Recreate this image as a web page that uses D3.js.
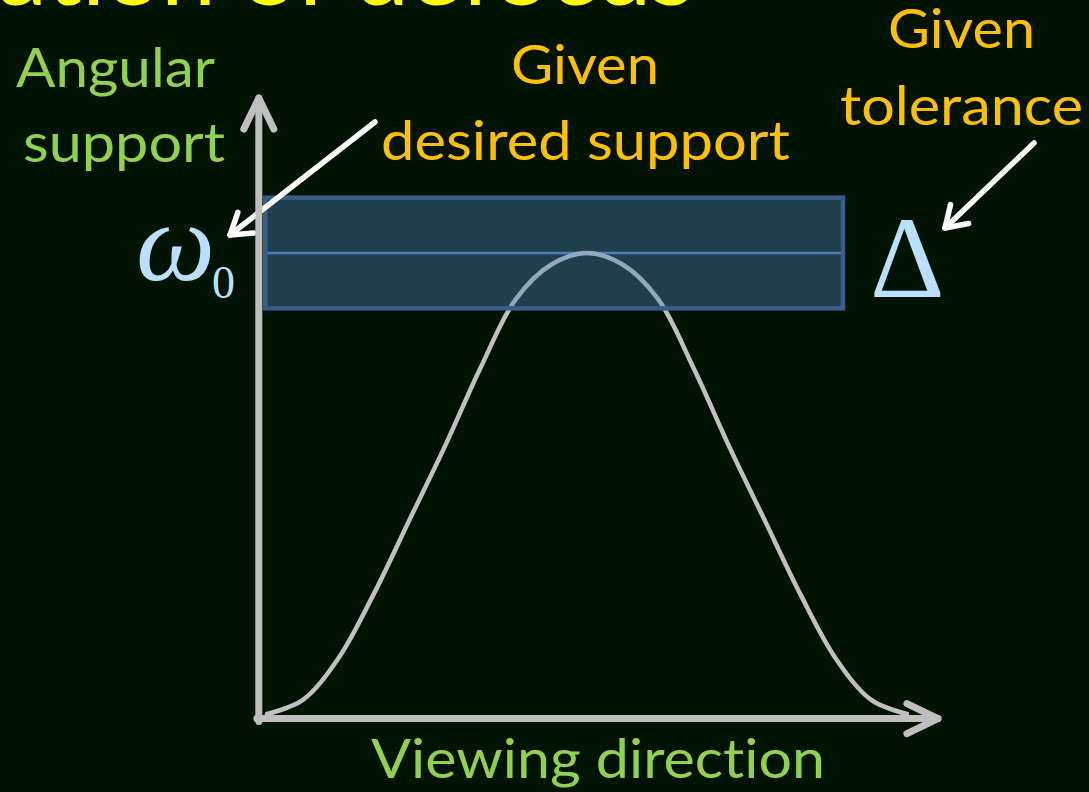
<!DOCTYPE html>
<html>
<head>
<meta charset="utf-8">
<script src="https://cdn.jsdelivr.net/npm/d3@7/dist/d3.min.js"></script>
<style>
body { margin: 0; background: #001300; }
svg { display: block; }
text { font-variant-ligatures: none; font-feature-settings: "liga" 0; }
</style>
</head>
<body>
<svg id="svg"></svg>
<script>
var width = 1089, height = 792;

// data: viewing direction (deg) and angular support
var viewAngles = [-90, -80, -70, -60, -50, -40, -30, -20, -10, 0, 10, 20, 30, 40, 50, 60, 70, 80, 90];
var support = [0.00, 0.03, 0.12, 0.26, 0.42, 0.58, 0.75, 0.90, 0.975, 1.00, 0.975, 0.90, 0.75, 0.58, 0.42, 0.26, 0.12, 0.03, 0.00];
var omega0 = 1.0;        // desired support
var delta = 0.12;        // tolerance
var bandAngles = [-90.5, 72];
var axisOrigin = [-92.3, -0.01];
var axisEnds = [98.7, 1.336];

// texts
var titleText = "ation of defocus";
var yLabelLines = ["Angular", "support"];
var bandLabelLines = ["Given", "desired support"];
var tolLabelLines = ["Given", "tolerance"];
var xLabelText = "Viewing direction";

var svg = d3.select("#svg")
	.attr("width", width)
	.attr("height", height);

svg.append("rect")
	.attr("width", width)
	.attr("height", height)
	.attr("fill", "#001300");

var x = d3.scaleLinear()
	.domain([-90, 90])
	.range([267, 907]);

var y = d3.scaleLinear()
	.domain([0, 1])
	.range([714, 253]);

var green = "#92d050", orange = "#ffc000", blue = "#b9e0ff";
var sans = "Lato, 'Open Sans', sans-serif";
var serif = "'Liberation Serif', 'DejaVu Serif', serif";

// title, only the bottom is on the page
svg.append("text")
	.attr("x", -2)
	.attr("y", 5)
	.attr("textLength", 696)
	.attr("lengthAdjust", "spacingAndGlyphs")
	.style("font-family", sans)
	.style("font-size", "92px")
	.style("fill", "#ffff00")
	.text(titleText);

// centre line of the band
svg.append("line")
	.attr("x1", x(bandAngles[0]))
	.attr("x2", x(bandAngles[1]))
	.attr("y1", y(omega0))
	.attr("y2", y(omega0))
	.attr("stroke", "#477fc2")
	.attr("stroke-width", 2.5);

var line = d3.line()
	.x(function(d, i) { return x(viewAngles[i]); })
	.y(function(d) { return y(d); })
	.curve(d3.curveCatmullRom);

svg.append("path")
	.datum(support)
	.attr("d", line)
	.attr("fill", "none")
	.attr("stroke", "#c0c0c0")
	.attr("stroke-width", 4.5)
	.attr("stroke-linecap", "round");

// tolerance band
svg.append("rect")
	.attr("x", x(bandAngles[0]))
	.attr("y", y(omega0 + delta))
	.attr("width", x(bandAngles[1]) - x(bandAngles[0]))
	.attr("height", y(omega0 - delta) - y(omega0 + delta))
	.attr("fill", "rgba(79,129,189,0.4)")
	.attr("stroke", "#385d8a")
	.attr("stroke-width", 4.5);

// white pointer arrows
function pointer(from, tip) {
	var dx = tip[0] - from[0], dy = tip[1] - from[1];
	var a = Math.atan2(dy, dx), len = 24, half = 33 * Math.PI / 180;
	var w1 = [tip[0] - len * Math.cos(a - half), tip[1] - len * Math.sin(a - half)];
	var w2 = [tip[0] - len * Math.cos(a + half), tip[1] - len * Math.sin(a + half)];
	var g = svg.append("g")
		.attr("stroke", "#ffffff")
		.attr("stroke-width", 5.5)
		.attr("fill", "none")
		.attr("stroke-linecap", "round")
		.attr("stroke-linejoin", "round");
	g.append("line")
		.attr("x1", from[0]).attr("y1", from[1])
		.attr("x2", tip[0]).attr("y2", tip[1]);
	g.append("path")
		.attr("d", "M" + w1 + "L" + tip + "L" + w2);
}
pointer([375, 122], [230, 235]);
pointer([1034, 143], [945, 228]);

// axes with open arrow heads
var ox = x(axisOrigin[0]), oy = y(axisOrigin[1]);
var xEnd = x(axisEnds[0]), yEnd = y(axisEnds[1]);
var axes = svg.append("g")
	.attr("stroke", "#bfbfbf")
	.attr("stroke-width", 7)
	.attr("fill", "none")
	.attr("stroke-linecap", "round")
	.attr("stroke-linejoin", "round");
axes.append("path")
	.attr("d", "M" + ox + "," + (oy + 3) + "L" + ox + "," + yEnd);
axes.append("path")
	.attr("d", "M" + (ox - 2) + "," + oy + "L" + xEnd + "," + oy);
axes.append("path")
	.attr("d", "M" + (ox - 15) + "," + (yEnd + 31) + "L" + ox + "," + yEnd + "L" + (ox + 15) + "," + (yEnd + 31));
axes.append("path")
	.attr("d", "M" + (xEnd - 31) + "," + (oy - 15) + "L" + xEnd + "," + oy + "L" + (xEnd - 31) + "," + (oy + 15));

// labels
function label(txt, x0, w, base, color) {
	svg.append("text")
		.attr("x", x0 - 2)
		.attr("y", base)
		.attr("textLength", w + 4)
		.attr("lengthAdjust", "spacingAndGlyphs")
		.style("font-family", sans)
		.style("font-size", "54px")
		.style("fill", color)
		.text(txt);
}
label(yLabelLines[0], 18, 195, 87, green);
label(yLabelLines[1], 25, 198, 162, green);
label(bandLabelLines[0], 513, 144, 84, orange);
label(bandLabelLines[1], 383, 405, 160, orange);
label(tolLabelLines[0], 890, 143, 48, orange);
label(tolLabelLines[1], 842, 239, 125, orange);
label(xLabelText, 373, 450, 778, green);

// symbols
svg.append("text")
	.attr("x", 136)
	.attr("y", 280)
	.style("font-family", serif)
	.style("font-style", "italic")
	.style("font-size", "112px")
	.style("fill", blue)
	.text("\u03c9");
svg.append("text")
	.attr("x", 212)
	.attr("y", 298)
	.style("font-family", serif)
	.style("font-size", "46px")
	.style("fill", blue)
	.text("0");
svg.append("text")
	.attr("x", 870)
	.attr("y", 297)
	.style("font-family", serif)
	.style("font-size", "116px")
	.style("fill", blue)
	.text("\u0394");
</script>
</body>
</html>
